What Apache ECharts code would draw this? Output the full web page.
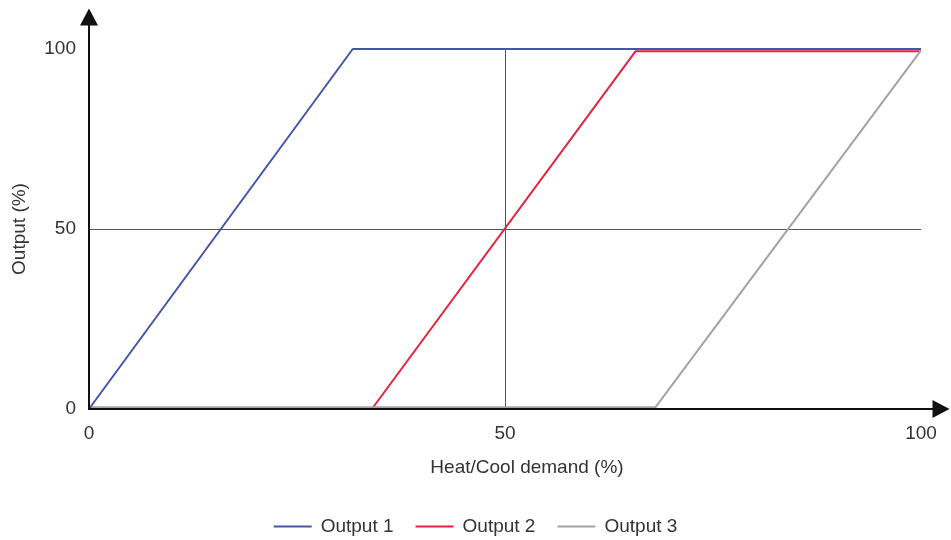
<!DOCTYPE html>
<html><head><meta charset="utf-8">
<script src="https://cdn.jsdelivr.net/npm/echarts@6/dist/echarts.min.js"></script>
<style>html,body{margin:0;padding:0;background:#fff}#c{width:951px;height:540px}</style>
</head><body><div id="c"></div>
<script>
var seriesNames = ['Output 1', 'Output 2', 'Output 3'];
var output1 = [[0, 0], [31.7, 100], [100, 100]];
var output2 = [[0, 0], [34, 0], [65.7, 99.4], [100, 99.4]];
var output3 = [[0, 0.5], [68.1, 0.5], [100, 99.6]];
var xTicks = [0, 50, 100];
var yTicks = [0, 50, 100];
var colors = ['#4456a7', '#e8213f', '#a3a3a3'];
var font = 'Liberation Sans, Arial, sans-serif';
var fs = 19;

var chart = echarts.init(document.getElementById('c'), null, {renderer: 'canvas'});
function lineSeries(i, data, z) {
  return {
    name: seriesNames[i], type: 'line', data: data, symbol: 'none',
    xAxisIndex: 0, yAxisIndex: 0, z: z,
    lineStyle: {color: colors[i], width: 2}, itemStyle: {color: colors[i]},
    animation: false
  };
}
var s1 = lineSeries(0, output1, 7);
s1.markLine = {
  silent: true, symbol: 'none', label: {show: false},
  lineStyle: {color: '#555', width: 1, type: 'solid'},
  data: [{xAxis: xTicks[1]}, {yAxis: yTicks[1]}],
  animation: false
};
chart.setOption({
  backgroundColor: '#fff',
  textStyle: {fontFamily: font},
  grid: [
    {left: 89, right: 30, top: 49, bottom: 131},
    {left: 89, right: 10, top: 17, bottom: 131}
  ],
  legend: {
    top: 512, left: 'center', itemWidth: 38, itemHeight: 2, itemGap: 22, icon: 'rect',
    textStyle: {fontSize: fs, color: '#333', fontFamily: font, padding: [0, 0, 0, 4]},
    data: seriesNames
  },
  xAxis: [{
    type: 'value', gridIndex: 0, min: 0, max: 100, interval: 50,
    axisLine: {show: false}, axisTick: {show: false}, splitLine: {show: false},
    axisLabel: {fontSize: fs, color: '#333', margin: 15, fontFamily: font},
    name: 'Heat/Cool demand (%)', nameLocation: 'middle', nameGap: 49,
    nameTextStyle: {fontSize: fs, color: '#333', fontFamily: font, padding: [0, 0, 0, 44]}
  }, {
    type: 'value', gridIndex: 1, min: 0, max: 1, z: 20,
    axisLine: {show: true, symbol: ['none', 'triangle'], symbolSize: [18, 17], lineStyle: {color: '#111', width: 2}},
    axisTick: {show: false}, axisLabel: {show: false}, splitLine: {show: false}
  }],
  yAxis: [{
    type: 'value', gridIndex: 0, min: 0, max: 100, interval: 50,
    axisLine: {show: false}, axisTick: {show: false}, splitLine: {show: false},
    axisLabel: {fontSize: fs, color: '#333', margin: 13, fontFamily: font},
    name: 'Output (%)', nameLocation: 'middle', nameGap: 60, nameRotate: 90,
    nameTextStyle: {fontSize: fs, color: '#333', fontFamily: font}
  }, {
    type: 'value', gridIndex: 1, min: 0, max: 1, z: 20,
    axisLine: {show: true, symbol: ['none', 'triangle'], symbolSize: [18, 17], lineStyle: {color: '#111', width: 2}},
    axisTick: {show: false}, axisLabel: {show: false}, splitLine: {show: false}
  }],
  series: [s1, lineSeries(1, output2, 2), lineSeries(2, output3, 6)]
});
</script></body></html>
